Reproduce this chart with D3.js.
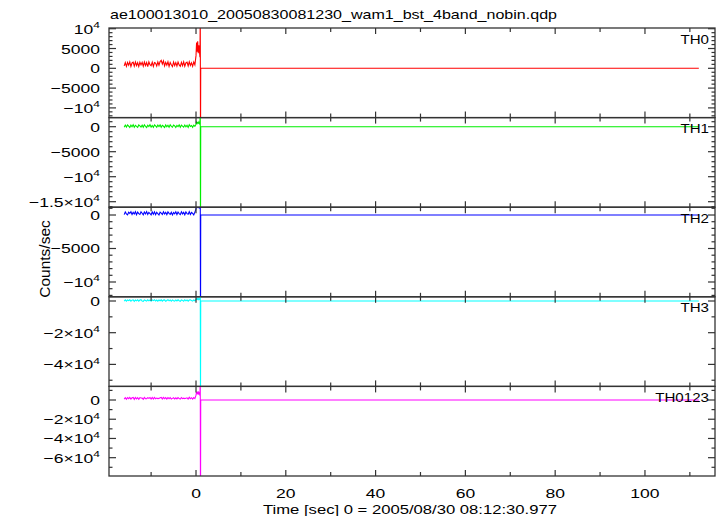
<!DOCTYPE html>
<html><head><meta charset="utf-8">
<script src="https://cdn.jsdelivr.net/npm/d3@7"></script>
<style>html,body{margin:0;padding:0;background:#fff;}svg{display:block;}</style>
</head><body>
<svg id="chart" width="720" height="516"></svg>
<script>
const title = "ae100013010_20050830081230_wam1_bst_4band_nobin.qdp";
const xTitle = "Time [sec] 0 = 2005/08/30 08:12:30.977";
const yTitle = "Counts/sec";
const bandNames = ["TH0","TH1","TH2","TH3","TH0123"];
const bandColors = ["#ff0000","#00ee00","#0000ff","#00ffff","#ff00ff"];

const timeSec = [-16,-15.75,-15.5,-15.25,-15,-14.75,-14.5,-14.25,-14,-13.75,-13.5,-13.25,-13,-12.75,-12.5,-12.25,
 -12,-11.75,-11.5,-11.25,-11,-10.75,-10.5,-10.25,-10,-9.75,-9.5,-9.25,-9,-8.75,-8.5,-8.25,
 -8,-7.75,-7.5,-7.25,-7,-6.75,-6.5,-6.25,-6,-5.75,-5.5,-5.25,-5,-4.75,-4.5,-4.25,
 -4,-3.75,-3.5,-3.25,-3,-2.75,-2.5,-2.25,-2,-1.75,-1.5,-1.25,-1,-0.75,-0.5,-0.25,
 0,0.125,0.25,0.375,0.5,0.625,0.75,0.875,0.95,1.0,1.05,112];

const th0 = [600,1450,500,1500,800,1600,450,1350,1550,550,1600,700,1400,450,1550,850,
 1500,520,1600,700,1450,420,1650,900,650,1550,480,1450,1300,560,1600,780,
 1700,2000,1100,1850,600,1500,800,1650,500,1450,900,450,1600,700,1450,550,
 1600,850,480,1500,650,1650,520,1400,1550,600,1650,750,1400,500,1600,900,
 3200,6500,4200,6800,3800,5800,4500,2800,14000,-20000,0,0];
const th1 = [-120,330,-60,360,100,-150,320,0,380,-100,280,60,-140,350,180,-60,
 300,-120,370,80,-160,300,20,390,-80,250,-140,340,150,-110,320,40,
 360,-130,280,90,-150,350,-20,300,-120,380,60,-90,330,160,-140,270,
 20,370,-120,310,100,-100,340,-10,270,-160,390,40,230,-120,320,80,
 500,900,650,850,700,950,600,800,3000,-25000,0,0];
const th2 = [60,450,180,20,420,230,480,70,390,150,490,40,430,200,90,470,
 260,30,440,160,500,80,400,220,10,460,130,480,50,410,190,0,
 430,270,80,490,150,400,40,460,240,100,420,20,380,180,480,70,
 450,220,60,470,160,400,30,450,210,110,490,80,380,240,20,430,
 900,1800,1200,2000,1000,1700,1400,900,2500,-20000,0,0];
const th3 = [-100,700,-150,650,200,800,-100,550,750,-200,650,100,700,-100,600,800,
 0,-200,700,300,-100,750,100,650,-150,700,250,800,-50,600,-150,650,
 150,750,-100,550,700,-200,350,800,100,650,-150,700,200,-100,650,0,
 750,150,-150,700,400,-100,800,100,650,-150,600,700,250,-100,650,150,
 800,1500,1100,1600,900,1400,1200,800,4000,-70000,0,0];
const th0123 = [900,2500,800,2600,1400,2700,900,2300,2600,700,2700,1200,2400,800,2500,2100,
 2000,700,2700,1400,1300,2500,1700,2600,900,2600,1100,2800,1300,2000,1500,1700,
 2400,2700,1100,2700,1300,2500,900,2500,1300,2500,1000,1700,2300,1000,2300,1100,
 2500,1500,900,2600,1400,1900,1500,1900,2300,900,2800,1300,2400,900,2500,1500,
 5000,8500,6200,8800,5600,8000,6800,4500,20000,-135000,0,0];
const seriesValues = [th0, th1, th2, th3, th0123];

const xDomain = [-19.38, 115.6];
const xMajor = [0,20,40,60,80,100];
const xMinor = [-10,10,30,50,70,90,110];

const yDomains = [[-12450,10180],[-16100,1820],[-12210,1165],[-53890,2650],[-79050,14150]];
const yMajor = [[-10000,-5000,0,5000,10000],[-15000,-10000,-5000,0],[-10000,-5000,0],[-40000,-20000,0],[-60000,-40000,-20000,0]];
const yLabels = [["−10^4","−5000","0","5000","10^4"],["−1.5×10^4","−10^4","−5000","0"],["−10^4","−5000","0"],["−4×10^4","−2×10^4","0"],["−6×10^4","−4×10^4","−2×10^4","0"]];
const yMinorStep = [1000,1000,1000,10000,10000];

const svg = d3.select("#chart");
const L = 109, R = 715, T = 28, B = 476;
const nP = 5, pH = (B - T) / nP;
const font = "'Liberation Sans', Arial, Helvetica, sans-serif";
const frameCol = "#333";
const SX = 1.3;

svg.append("rect").attr("width",720).attr("height",516).attr("fill","#fff");

const x = d3.scaleLinear().domain(xDomain).range([L, R]);

function putLabel(sel, str, size) {
  const parts = str.split("^");
  sel.append("tspan").text(parts[0]);
  if (parts[1]) sel.append("tspan").attr("dy", -size*0.42).attr("font-size", size*0.68).text(parts[1]);
}
function stretched(parent, px, py, anchor, size, sx) {
  return parent.append("text").attr("transform", `translate(${px},${py}) scale(${sx},1)`)
    .attr("text-anchor", anchor).attr("font-family", font).attr("font-size", size).attr("fill", "#000");
}

for (let p = 0; p < nP; p++) {
  const y0 = T + p*pH, y1 = y0 + pH;
  const y = d3.scaleLinear().domain(yDomains[p]).range([y1, y0]);
  const g = svg.append("g");
  g.append("clipPath").attr("id","clip"+p).append("rect")
    .attr("x",L).attr("y",y0).attr("width",R-L).attr("height",pH);
  const line = d3.line().x((d,i)=>x(timeSec[i])).y(d=>y(d));
  g.append("path").datum(seriesValues[p]).attr("d", line)
    .attr("fill","none").attr("stroke", bandColors[p]).attr("stroke-width",1.1)
    .attr("clip-path","url(#clip"+p+")");

  g.append("rect").attr("x",L).attr("y",y0).attr("width",R-L).attr("height",pH)
    .attr("fill","none").attr("stroke",frameCol).attr("stroke-width",1.3);

  const xt = xMajor.map(v=>({v,len:6})).concat(xMinor.map(v=>({v,len:4})));
  xt.forEach(t => {
    const xx = x(t.v);
    if (xx < L || xx > R) return;
    g.append("line").attr("x1",xx).attr("x2",xx).attr("y1",y0).attr("y2",y0+t.len).attr("stroke",frameCol).attr("stroke-width",1.2);
    g.append("line").attr("x1",xx).attr("x2",xx).attr("y1",y1).attr("y2",y1-t.len).attr("stroke",frameCol).attr("stroke-width",1.2);
  });
  const step = yMinorStep[p];
  const minors = d3.range(Math.ceil(yDomains[p][0]/step)*step, yDomains[p][1], step);
  minors.forEach(v => {
    const major = yMajor[p].includes(v);
    const len = major ? 7 : 3.5;
    const yy = y(v);
    g.append("line").attr("x1",L).attr("x2",L+len).attr("y1",yy).attr("y2",yy).attr("stroke",frameCol).attr("stroke-width",1.2);
    g.append("line").attr("x1",R).attr("x2",R-len).attr("y1",yy).attr("y2",yy).attr("stroke",frameCol).attr("stroke-width",1.2);
  });
  yMajor[p].forEach((v,i) => {
    const t = stretched(g, L-9, y(v)+5, "end", 13.5, SX);
    putLabel(t, yLabels[p][i], 13.5);
  });
  stretched(g, R-6, y0+15.5, "end", 13.5, 1.12).text(bandNames[p]);

  if (p === nP-1) {
    xMajor.forEach(v => {
      stretched(g, x(v), B+22, "middle", 13.5, SX).text(v);
    });
  }
}

svg.append("text").attr("x",110).attr("y",19).attr("font-family",font).attr("font-size",13.5)
  .attr("textLength",447).attr("lengthAdjust","spacingAndGlyphs")
  .attr("fill","#000").text(title);
svg.append("text").attr("x",263).attr("y",514)
  .attr("font-family",font).attr("font-size",13.5)
  .attr("textLength",294).attr("lengthAdjust","spacingAndGlyphs")
  .attr("fill","#000").text(xTitle);
svg.append("text").attr("transform","translate(50,259) rotate(-90)").attr("text-anchor","middle")
  .attr("font-family",font).attr("font-size",15.5).attr("fill","#000").text(yTitle);
</script>
</body></html>
